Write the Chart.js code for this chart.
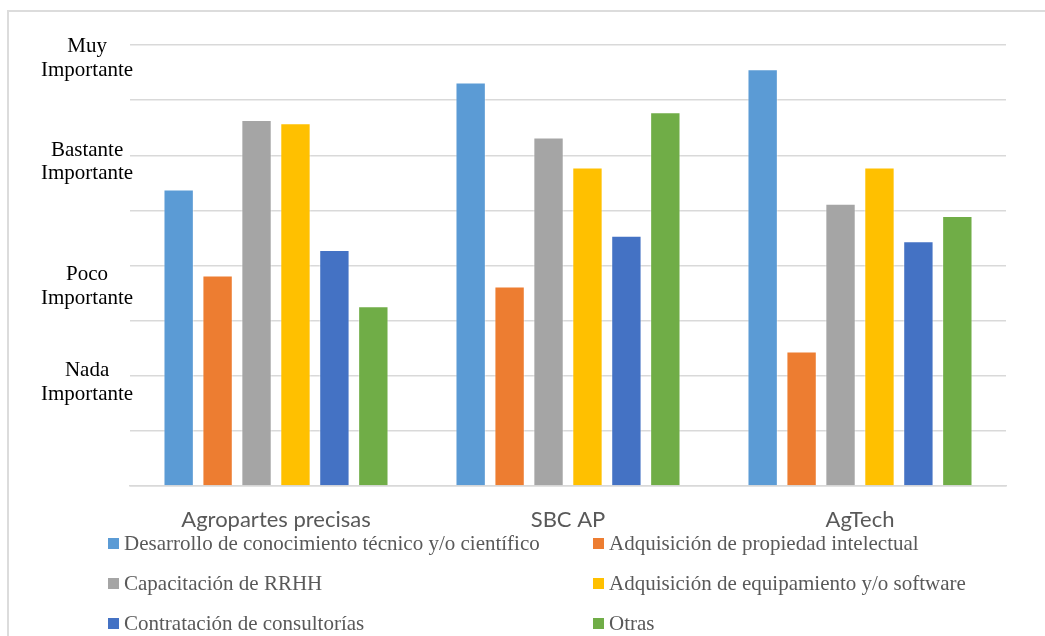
<!DOCTYPE html>
<html>
<head>
<meta charset="utf-8">
<script src="https://cdn.jsdelivr.net/npm/chart.js@4"></script>
<style>
  body { margin: 0; background: #fff; width: 1045px; height: 636px; overflow: hidden; position: relative; }
  #frame { position: absolute; left: 7px; top: 10px; width: 1100px; height: 700px; border: 2px solid #dcdcdc; }
  #wrap { position: absolute; left: 0; top: 0; width: 1045px; height: 540px; }
  #legend { position: absolute; left: 108px; top: 523px; display: grid; grid-template-columns: 485px 440px; row-gap: 0; }
  .item { height: 40px; display: flex; align-items: center; font-family: "Liberation Serif", "Times New Roman", serif; font-size: 21px; color: #595959; white-space: nowrap; }
  .box { width: 11px; height: 11px; margin-right: 5px; flex: none; }
</style>
</head>
<body>
<div id="frame"></div>
<div id="wrap"><canvas id="chart"></canvas></div>
<div id="legend"></div>
<script>
// Data
const categories = ["Agropartes precisas", "SBC AP", "AgTech"];
const seriesNames = [
  "Desarrollo de conocimiento técnico y/o científico",
  "Adquisición de propiedad intelectual",
  "Capacitación de RRHH",
  "Adquisición de equipamiento y/o software",
  "Contratación de consultorías",
  "Otras"
];
const desarrollo = [2.69, 3.66, 3.78];
const propiedad = [1.91, 1.81, 1.22];
const capacitacion = [3.32, 3.16, 2.56];
const equipamiento = [3.29, 2.89, 2.89];
const consultorias = [2.14, 2.27, 2.22];
const otras = [1.63, 3.39, 2.45];
const yTickValues = [3.88, 2.94, 1.81, 0.94];
const yTickLabels = [["Muy", "Importante"], ["Bastante", "Importante"], ["Poco", "Importante"], ["Nada", "Importante"]];

const colors = ["#5B9BD5", "#ED7D31", "#A5A5A5", "#FFC000", "#4472C4", "#70AD47"];
const values = [desarrollo, propiedad, capacitacion, equipamiento, consultorias, otras];

document.addEventListener("DOMContentLoaded", function () {
  const ctx = document.getElementById("chart").getContext("2d");

  const datasets = seriesNames.map(function (name, i) {
    return {
      label: name,
      data: values[i],
      backgroundColor: colors[i],
      borderColor: "rgba(255,255,255,0.45)",
      borderWidth: 1,
      categoryPercentage: 0.8,
      barPercentage: 0.78
    };
  });

  const chart = new Chart(ctx, {
    type: "bar",
    data: { labels: categories, datasets: datasets },
    options: {
      responsive: true,
      maintainAspectRatio: false,
      animation: false,
      layout: { padding: { top: 45, right: 39, left: 0, bottom: 0 } },
      plugins: { legend: { display: false }, tooltip: { enabled: false } },
      scales: {
        x: {
          grid: { display: false },
          border: { display: true, color: "#d9d9d9", width: 1.5 },
          ticks: { color: "#595959", font: { family: "Lato", size: 22 }, padding: 13 },
          afterFit: function (scale) { scale.height = 54; }
        },
        y: {
          min: 0, max: 4,
          position: "left",
          grid: { color: "#d9d9d9", lineWidth: 1.5, drawTicks: false },
          border: { display: false },
          ticks: { display: false, stepSize: 0.5 },
          afterFit: function (scale) { scale.width = 0; }
        },
        y2: {
          min: 0, max: 4,
          position: "left",
          grid: { display: false, drawTicks: false },
          border: { display: false },
          afterBuildTicks: function (scale) {
            scale.ticks = yTickValues.map(function (v) { return { value: v }; });
          },
          ticks: {
            color: "#000",
            mirror: true,          // mirrored labels are not clipped to the axis box
            crossAlign: "center",
            padding: -89,
            font: { family: "Liberation Serif", size: 21, lineHeight: 1.12 },
            callback: function (value, index) { return yTickLabels[index]; }
          },
          afterFit: function (scale) { scale.width = 130; }
        }
      }
    }
  });

  // Legend in two columns, like the original
  const legend = document.getElementById("legend");
  chart.data.datasets.forEach(function (ds) {
    const item = document.createElement("div");
    item.className = "item";
    item.innerHTML = '<span class="box" style="background:' + ds.backgroundColor + '"></span>' + ds.label;
    legend.appendChild(item);
  });
});
</script>
</body>
</html>
